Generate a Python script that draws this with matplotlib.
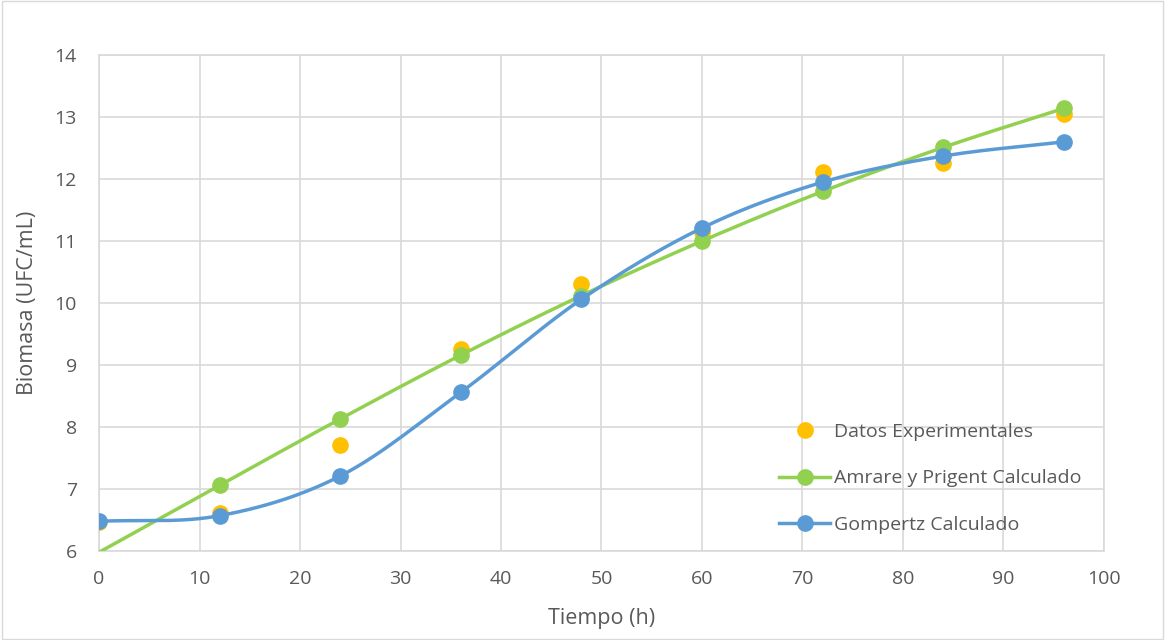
import numpy as np
import matplotlib
matplotlib.use("Agg")
import matplotlib.pyplot as plt

# ===============================
# Data
# ===============================
tiempo = [0, 12, 24, 36, 48, 60, 72, 84, 96]
experimental = [6.47, 6.61, 7.71, 9.26, 10.31, 11.15, 12.12, 12.26, 13.05]
amrare = [5.98, 7.06, 8.13, 9.16, 10.12, 11.0, 11.8, 12.51, 13.14]
gompertz = [6.48, 6.57, 7.21, 8.56, 10.06, 11.21, 11.95, 12.37, 12.6]

x_ticks = list(range(0, 101, 10))
y_ticks = list(range(6, 15))


def smooth(x, y, n=30):
    # Catmull-Rom style smoothing, like Excel's "smoothed line"
    x = np.asarray(x, float)
    y = np.asarray(y, float)
    px = np.concatenate([[2 * x[0] - x[1]], x, [2 * x[-1] - x[-2]]])
    py = np.concatenate([[2 * y[0] - y[1]], y, [2 * y[-1] - y[-2]]])
    xs, ys = [], []
    t = np.linspace(0, 1, n)
    for i in range(1, len(px) - 2):
        p0, p1, p2, p3 = px[i - 1], px[i], px[i + 1], px[i + 2]
        q0, q1, q2, q3 = py[i - 1], py[i], py[i + 1], py[i + 2]
        bx = [p1, p1 + (p2 - p0) / 6, p2 - (p3 - p1) / 6, p2]
        by = [q1, q1 + (q2 - q0) / 6, q2 - (q3 - q1) / 6, q2]
        b = [(1 - t) ** 3, 3 * (1 - t) ** 2 * t, 3 * (1 - t) * t ** 2, t ** 3]
        xs.append(sum(bi * c for bi, c in zip(b, bx)))
        ys.append(sum(bi * c for bi, c in zip(b, by)))
    return np.concatenate(xs), np.concatenate(ys)


plt.rcParams['font.family'] = ['Open Sans', 'DejaVu Sans']
gray = "#595959"
c_orange = "#FFC000"
c_green = "#92D050"
c_blue = "#5B9BD5"

fig = plt.figure(figsize=(11.65, 6.4), dpi=100)
ax = fig.add_axes([0.085, 0.139, 0.8626, 0.775])

# chart area border
fig.patches.append(plt.Rectangle((0.002, 0.002), 0.996, 0.996, transform=fig.transFigure,
                                 fill=False, edgecolor="#D9D9D9", linewidth=1))

ax.plot(tiempo, experimental, "o", color=c_orange, markersize=11, zorder=3)

gx, gy = smooth(tiempo, amrare)
ax.plot(gx, gy, color=c_green, linewidth=2.5, zorder=4)
ax.plot(tiempo[1:], amrare[1:], "o", color=c_green, markersize=11, zorder=4)

bx, by = smooth(tiempo, gompertz)
ax.plot(bx, by, color=c_blue, linewidth=2.5, zorder=5)
ax.plot(tiempo, gompertz, "o", color=c_blue, markersize=11, zorder=5)

# legend proxies
h1, = ax.plot([], [], "o", color=c_orange, markersize=11)
h2, = ax.plot([], [], "-o", color=c_green, markersize=11, linewidth=2.5)
h3, = ax.plot([], [], "-o", color=c_blue, markersize=11, linewidth=2.5)
leg = ax.legend([h1, h2, h3],
                ["Datos Experimentales", "Amrare y Prigent Calculado", "Gompertz Calculado"],
                loc="lower right", bbox_to_anchor=(0.995, 0.0), frameon=False,
                fontsize=14, labelcolor=gray, handlelength=2.6, handletextpad=0.2,
                labelspacing=1.45)

ax.set_xlim(0, 100)
ax.set_ylim(6, 14)
ax.set_xticks(x_ticks)
ax.set_yticks(y_ticks)
ax.grid(True, color="#D9D9D9", linewidth=1.2)
ax.set_axisbelow(True)
for s in ax.spines.values():
    s.set_color("#D9D9D9")
    s.set_linewidth(1.2)
ax.tick_params(length=0, labelsize=14, colors=gray)
ax.tick_params(axis="x", pad=14)
ax.tick_params(axis="y", pad=16)

ax.set_xlabel("Tiempo (h)", fontsize=15.5, color=gray, labelpad=14)
ax.set_ylabel("Biomasa (UFC/mL)", fontsize=15.5, color=gray, labelpad=12)

fig.savefig("out.png", dpi=100)
